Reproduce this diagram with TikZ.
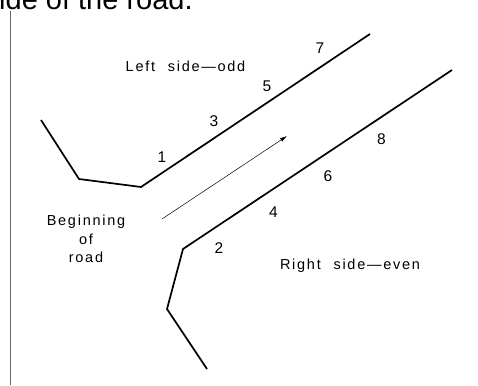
\documentclass[tikz,border=0pt]{standalone}
\usepackage{fontspec}
\setmainfont{Liberation Sans}
\newfontfamily\sidefont[LetterSpace=12,WordSpace=2.2]{Liberation Sans}
\usetikzlibrary{positioning,arrows.meta}

\begin{document}
\begin{tikzpicture}[x=1pt,y=-1pt,
        edge/.style={line width=1.7pt, line join=miter},
        side/.style={
            inner sep=0pt,
            align=center,
            font=\sidefont\fontsize{14.5}{18.5}\selectfont
        },
        num/.style={inner sep=0pt, font=\fontsize{15.5}{17}\selectfont},
        flow/.style={-{Latex[length=7pt,width=4pt]}, line width=0.5pt}
    ]
    \useasboundingbox (0,0) rectangle (478,385);

    % caption above, cut by the page edge
    \node[anchor=base west, inner sep=0pt, font=\fontsize{29}{33}\selectfont] (caption) at (-1,10) {ide of the road.};
    \draw[black!60, line width=0.9pt] (10,11) -- (10,385);

    % left edge of the road
    \coordinate (l0) at (41,120);
    \coordinate (l1) at (79,179);
    \coordinate (l2) at (141,187);
    \coordinate (l3) at (370,34);
    \draw[edge] (l0) -- (l1) -- (l2) -- (l3);

    % right edge of the road
    \coordinate (r0) at (452,70);
    \coordinate (r1) at (183,249);
    \coordinate (r2) at (167,309);
    \coordinate (r3) at (207,369);
    \draw[edge] (r0) -- (r1) -- (r2) -- (r3);

    % direction of travel
    \coordinate (start) at (162,219);
    \coordinate (goal) at (287,136);
    \draw[flow] (start) -- (goal);

    \node[side] (left) at (185.5,66) {Left side—odd};
    \node[side] (right) at (350,265.5) {Right side—even};
    \node[side] (begin) at (86,239) {Beginning\\of\\road};

    % house numbers
    \node[num] (n1) at (162,157) {1};
    \node[num] (n3) at (214,121) {3};
    \node[num] (n5) at (267,86) {5};
    \node[num] (n7) at (320,48.5) {7};
    \node[num] (n2) at (219,248) {2};
    \node[num] (n4) at (273.5,212) {4};
    \node[num] (n6) at (328,176) {6};
    \node[num] (n8) at (381.5,139) {8};
\end{tikzpicture}
\end{document}
